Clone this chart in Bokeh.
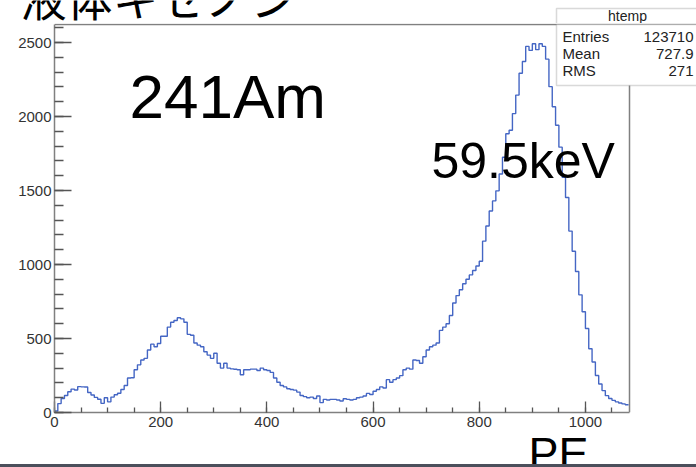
import numpy as np
from bokeh.plotting import figure
from bokeh.models import Label, BoxAnnotation, SingleIntervalTicker, Div
from bokeh.layouts import column, row
from bokeh.embed import file_html
from bokeh.resources import INLINE

# ---- data ----
BIN_WIDTH = 6.25  # PE per bin
counts = [
    10, 60, 95, 115, 140, 158, 152, 175, 173, 172,
    135, 118, 102, 90, 62, 100, 72, 104, 120, 130,
    155, 182, 233, 235, 289, 322, 355, 366, 422, 462,
    444, 466, 515, 515, 577, 610, 622, 640, 633, 610,
    528, 522, 470, 455, 444, 411, 388, 366, 400, 333,
    300, 333, 300, 295, 292, 289, 255, 289, 289, 293,
    293, 284, 300, 289, 284, 271, 233, 204, 182, 173,
    160, 155, 151, 138, 115, 107, 100, 104, 95, 111,
    67, 89, 84, 89, 89, 84, 78, 93, 89, 84,
    89, 100, 104, 111, 129, 122, 144, 155, 173, 166,
    222, 204, 222, 233, 249, 289, 300, 293, 355, 351,
    333, 377, 422, 444, 455, 470, 555, 577, 600, 655,
    740, 790, 830, 870, 900, 930, 960, 990,
    1022, 1158, 1260, 1362, 1430, 1498, 1612, 1725, 1884, 1907,
    2020, 2145, 2293, 2372, 2474, 2447, 2492, 2452, 2492, 2474,
    2388, 2202, 2066, 1941, 1793, 1589, 1453, 1226, 1090, 953,
    795, 681, 568, 431, 341, 250, 193, 148, 114, 95,
    82, 72, 64, 58, 52,
]
x_axis_range = (0, 1083)   # extent of the histogram frame
y_axis_range = (0, 2622)
x_tick_interval = 200
y_tick_interval = 500

title_text = "液体キセノン"
source_text = "241Am"
peak_text = "59.5keV"
x_title = "PE"
stats_name = "htemp"
stats_labels = ["Entries", "Mean", "RMS"]
stats_values = ["123710", "727.9", "271"]

# ---- page geometry (pixels from the top-left of the page) ----
W = 696
TOP_H = 23          # strip holding the cut-off title and the stats header
MAIN_BOTTOM = 436   # main figure ends below the tick labels
PE_H = 28           # strip holding the axis title
BAR_H = 3
FL, FR, FT, FB = 54, 629, 24, 412  # histogram frame edges
SX = (x_axis_range[1] - x_axis_range[0]) / (FR - FL)
SY = (y_axis_range[1] - y_axis_range[0]) / (FB - FT)

def px2x(px):
    return x_axis_range[0] + (px - FL) * SX

def px2y(py):
    return y_axis_range[0] + (FB - py) * SY

FONT = "Liberation Sans"
FRAME_COLOR = "#808080"
TEXT_COLOR = "#222222"

def strip(height, y_top):
    f = figure(width=W, height=height, x_range=(0, W),
               y_range=(y_top + height, y_top),
               output_backend="svg", toolbar_location=None,
               x_axis_location=None, y_axis_location=None, min_border=0)
    f.xgrid.visible = False
    f.ygrid.visible = False
    f.outline_line_color = None
    f.background_fill_color = "white"
    f.border_fill_color = "white"
    return f

# ---- top strip: title and stats header ----
top = strip(TOP_H, 0)
top.add_layout(Label(x=20, y=-5, text=title_text,
                     text_font="Noto Sans CJK JP", text_font_size="46px",
                     text_color="black", text_baseline="middle"))
top.add_layout(BoxAnnotation(left=556, right=W + 20, top=8, bottom=TOP_H + 1.5,
                             fill_color="white", fill_alpha=1.0,
                             line_color=FRAME_COLOR, line_width=1.5))
top.add_layout(Label(x=627, y=15, text=stats_name, text_font=FONT,
                     text_font_size="14px", text_color=TEXT_COLOR,
                     text_align="center", text_baseline="middle"))

# ---- main histogram ----
p = figure(width=W, height=MAIN_BOTTOM - TOP_H,
           x_range=(x_axis_range[0], px2x(W)), y_range=(y_axis_range[0], px2y(TOP_H)),
           output_backend="svg", toolbar_location=None,
           min_border_left=FL, min_border_right=0,
           min_border_top=0, min_border_bottom=MAIN_BOTTOM - FB)
p.xgrid.visible = False
p.ygrid.visible = False
p.background_fill_color = "white"
p.border_fill_color = "white"
p.outline_line_color = None

for ax in (p.xaxis, p.yaxis):
    ax.axis_line_color = FRAME_COLOR
    ax.axis_line_width = 1.5
    ax.major_tick_line_color = "#555555"
    ax.minor_tick_line_color = "#555555"
    ax.major_tick_line_width = 1.3
    ax.minor_tick_line_width = 1.3
    ax.major_tick_out = 0
    ax.minor_tick_out = 0
    ax.major_label_text_font = FONT
    ax.major_label_text_font_size = "15px"
    ax.major_label_text_color = "#333333"

p.xaxis.bounds = x_axis_range
p.yaxis.bounds = y_axis_range
p.xaxis.ticker = SingleIntervalTicker(interval=x_tick_interval, num_minor_ticks=4)
p.yaxis.ticker = SingleIntervalTicker(interval=y_tick_interval, num_minor_ticks=5)
p.xaxis.major_tick_in = 11
p.xaxis.minor_tick_in = 5
p.yaxis.major_tick_in = 17
p.yaxis.minor_tick_in = 9
p.xaxis.major_label_standoff = 4
p.yaxis.major_label_standoff = 3

# top and right frame edges
p.segment(x0=[x_axis_range[0], x_axis_range[1]],
          y0=[y_axis_range[1], y_axis_range[0]],
          x1=[px2x(W), x_axis_range[1]],
          y1=[y_axis_range[1], y_axis_range[1]],
          line_color=FRAME_COLOR, line_width=1.5)

# histogram outline
c = np.array(counts, dtype=float)
edges = x_axis_range[0] + np.arange(len(c) + 1) * BIN_WIDTH
xs = np.concatenate([[edges[0]], np.repeat(edges, 2)[1:-1]])
ys = np.concatenate([[0.0], np.repeat(c, 2)])
p.line(xs, ys, line_color="#4466c4", line_width=1.4)

# big texts (vertical centres of the glyphs)
p.add_layout(Label(x=px2x(129), y=px2y(96), text=source_text,
                   text_font=FONT, text_font_size="62px",
                   text_color="black", text_baseline="middle"))
p.add_layout(Label(x=px2x(431), y=px2y(160), text=peak_text,
                   text_font=FONT, text_font_size="50px",
                   text_color="black", text_baseline="middle"))

# stats box body
p.add_layout(BoxAnnotation(left=px2x(556), right=px2x(W + 20), top=px2y(FT), bottom=px2y(85),
                           fill_color="white", fill_alpha=1.0,
                           line_color=FRAME_COLOR, line_width=1.5))
for i, (lab, val) in enumerate(zip(stats_labels, stats_values)):
    yy = px2y(36 + i * 17)
    p.add_layout(Label(x=px2x(562), y=yy, text=lab, text_font=FONT,
                       text_font_size="15px", text_color=TEXT_COLOR,
                       text_align="left", text_baseline="middle"))
    p.add_layout(Label(x=px2x(693), y=yy, text=val, text_font=FONT,
                       text_font_size="15px", text_color=TEXT_COLOR,
                       text_align="right", text_baseline="middle"))

# ---- bottom strip: axis title ----
pe = strip(PE_H, MAIN_BOTTOM)
pe.add_layout(Label(x=528, y=453, text=x_title, text_font=FONT,
                    text_font_size="45px", text_color="black",
                    text_baseline="middle"))

bar = Div(text="", width=W, height=BAR_H, margin=(0, 0, 0, 0),
          styles={"background-color": "#4b4f5b"})
layout = column(row(top, spacing=0), p, row(pe, spacing=0), bar, spacing=0)

open("out.html", "w").write(file_html(layout, INLINE))
